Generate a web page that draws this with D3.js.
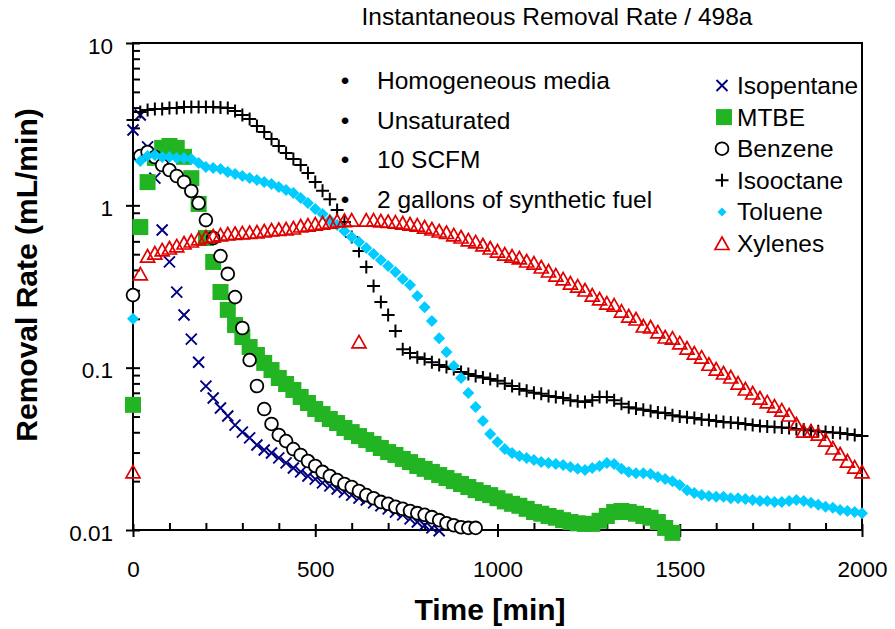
<!DOCTYPE html>
<html><head><meta charset="utf-8">
<script src="https://cdn.jsdelivr.net/npm/d3@7"></script>
<style>body{margin:0;background:#fff} svg text{font-family:"Liberation Sans",Arial,sans-serif;fill:#000}</style>
</head><body><svg id="c" width="895" height="629"></svg>
<script>
const timeMin = [0,20,40,60,80,100,120,140,160,180,200,220,240,260,280,300,320,340,360,380,400,420,440,460,480,500,520,540,560,580,600,620,640,660,680,700,720,740,760,780,800,820,840,860,880,900,920,940,960,980,1000,1020,1040,1060,1080,1100,1120,1140,1160,1180,1200,1220,1240,1260,1280,1300,1320,1340,1360,1380,1400,1420,1440,1460,1480,1500,1520,1540,1560,1580,1600,1620,1640,1660,1680,1700,1720,1740,1760,1780,1800,1820,1840,1860,1880,1900,1920,1940,1960,1980,2000];

const isopentane = [2.91,3.6,2.29,1.47,0.705,0.448,0.292,0.211,0.150,0.108,0.077,0.065,0.0564,0.0504,0.0443,0.0401,0.0369,0.0334,0.0311,0.0298,0.0278,0.0259,0.0241,0.0228,0.0215,0.0206,0.0195,0.0187,0.0179,0.0171,0.0164,0.0157,0.0153,0.0147,0.0141,0.0135,0.0129,0.0124,0.0117,0.0112,0.0107,0.0103,0.0099];

const mtbe = [0.059,0.735,1.39,1.96,2.26,2.32,2.26,1.99,1.47,1.02,0.629,0.448,0.2925,0.227,0.183,0.1545,0.134,0.1197,0.107,0.0967,0.0864,0.0793,0.0729,0.066,0.0606,0.0556,0.0518,0.0483,0.0456,0.0425,0.0401,0.0379,0.0358,0.0339,0.032,0.0302,0.029,0.0274,0.0262,0.0248,0.0238,0.0228,0.0218,0.0209,0.02,0.0192,0.0184,0.0176,0.0169,0.0164,0.0157,0.015,0.0145,0.0141,0.0135,0.0129,0.0126,0.0122,0.0119,0.0115,0.0112,0.011,0.0109,0.0109,0.0114,0.0122,0.0129,0.0131,0.0129,0.0126,0.0122,0.0119,0.0112,0.0103,0.0096];

const benzene = [0.28,2.01,2.13,1.985,1.771,1.65,1.516,1.393,1.226,1.033,0.811,0.629,0.487,0.378,0.272,0.1755,0.1114,0.0771,0.0556,0.045,0.0385,0.0353,0.0315,0.029,0.0266,0.0248,0.0228,0.0215,0.0203,0.0192,0.0184,0.0174,0.0164,0.0157,0.0149,0.0145,0.0139,0.0135,0.0131,0.0127,0.0124,0.012,0.0115,0.011,0.0107,0.0104,0.0103,0.0103];

const isooctane = [3.36,3.76,3.87,3.92,3.92,3.98,3.98,4.04,4.04,4.04,4.04,4.04,4.0,3.98,3.81,3.6,3.4,3.08,2.83,2.56,2.32,2.1,1.93,1.77,1.58,1.39,1.23,1.09,0.936,0.789,0.638,0.523,0.417,0.318,0.254,0.211,0.168,0.130,0.123,0.116,0.113,0.108,0.104,0.101,0.098,0.094,0.0914,0.0888,0.087,0.0851,0.083,0.080,0.077,0.074,0.072,0.070,0.069,0.067,0.066,0.065,0.063,0.062,0.0615,0.063,0.066,0.066,0.063,0.060,0.057,0.056,0.055,0.054,0.053,0.0525,0.051,0.050,0.0495,0.049,0.048,0.0476,0.047,0.0463,0.046,0.0456,0.045,0.0444,0.0437,0.0434,0.0431,0.0428,0.0425,0.0419,0.0416,0.041,0.0406,0.0401,0.0398,0.0396,0.039,0.0385,0.038];

const toluene = [0.2,1.876,2.01,2.04,1.985,1.985,1.957,1.957,1.929,1.823,1.722,1.697,1.673,1.603,1.558,1.516,1.474,1.432,1.393,1.354,1.297,1.243,1.191,1.109,1.033,0.949,0.884,0.811,0.756,0.695,0.638,0.595,0.546,0.501,0.46,0.423,0.388,0.352,0.323,0.276,0.236,0.194,0.152,0.125,0.1024,0.0864,0.0698,0.0572,0.0469,0.039,0.0348,0.0315,0.0298,0.0286,0.0278,0.027,0.0262,0.0259,0.0255,0.0251,0.0244,0.0238,0.0234,0.0241,0.0248,0.0259,0.0255,0.0238,0.0228,0.0224,0.0224,0.0221,0.0212,0.0206,0.02,0.0189,0.0176,0.0169,0.0164,0.0162,0.016,0.016,0.0157,0.0157,0.0155,0.0153,0.0151,0.0151,0.0149,0.0149,0.0151,0.0153,0.0151,0.0147,0.0143,0.0139,0.0137,0.0133,0.0131,0.0129,0.0127];

const xylenes = [0.0228,0.378,0.487,0.508,0.531,0.546,0.562,0.586,0.603,0.621,0.638,0.647,0.657,0.666,0.671,0.676,0.68,0.685,0.695,0.705,0.71,0.715,0.725,0.746,0.756,0.767,0.778,0.789,0.801,0.806,0.811,0.144,0.811,0.811,0.801,0.795,0.789,0.778,0.767,0.756,0.735,0.715,0.695,0.68,0.657,0.638,0.612,0.595,0.57,0.546,0.523,0.501,0.487,0.474,0.454,0.441,0.417,0.394,0.372,0.352,0.332,0.318,0.301,0.28,0.265,0.25,0.243,0.223,0.208,0.1995,0.1806,0.178,0.166,0.1545,0.152,0.142,0.132,0.123,0.116,0.105,0.098,0.0927,0.0876,0.0804,0.0739,0.0698,0.065,0.0615,0.058,0.0548,0.0511,0.045,0.0407,0.0407,0.039,0.0358,0.032,0.0294,0.0266,0.0244,0.0228];

const seriesNames = ["Isopentane","MTBE","Benzene","Isooctane","Toluene","Xylenes"];
const xTickValues = [0,500,1000,1500,2000];
const xTickLabels = ["0","500","1000","1500","2000"];
const yTickValues = [0.01,0.1,1,10];
const yTickLabels = ["0.01","0.1","1","10"];
const notes = ["Homogeneous media","Unsaturated","10 SCFM","2 gallons of synthetic fuel"];
const chartTitle = "Instantaneous Removal Rate / 498a";
const xTitle = "Time [min]";
const yTitle = "Removal Rate (mL/min)";

const L=133,R=862,T=43,B=530;
const x = d3.scaleLinear().domain([0,2000]).range([L,R]);
const y = d3.scaleLog().domain([0.01,10]).range([B,T]);
const svg = d3.select("#c");

svg.append("text").attr("x",557).attr("y",25).attr("text-anchor","middle")
  .style("font-size","24.5px").text(chartTitle);

// frame
svg.append("rect").attr("x",L).attr("y",T).attr("width",R-L).attr("height",B-T)
  .attr("fill","none").attr("stroke","#000").attr("stroke-width",2);

// x minor ticks (inside)
const xMinor = d3.range(100,2000,100).filter(v=>v%500!==0);
svg.append("g").attr("transform",`translate(0,${B})`)
  .call(d3.axisBottom(x).tickValues(xMinor).tickSize(-7).tickFormat(""))
  .call(g=>{g.select(".domain").remove();g.selectAll("line").attr("stroke-width",2);});
// x major ticks (crossing)
svg.append("g").attr("transform",`translate(0,${B})`)
  .call(d3.axisBottom(x).tickValues(xTickValues).tickSize(7).tickFormat((d,i)=>xTickLabels[i]))
  .call(g=>{g.select(".domain").remove();
    g.selectAll("line").attr("y1",-6).attr("stroke-width",2);
    g.selectAll("text").attr("y",47).attr("dy",null).style("font-size","22.5px").attr("fill","#000");
  });

// y minor ticks (inside)
const yMinor=[];
[0.01,0.1,1].forEach(d=>{for(let m=2;m<=9;m++) yMinor.push(+(d*m).toPrecision(3));});
svg.append("g").attr("transform",`translate(${L},0)`)
  .call(d3.axisLeft(y).tickValues(yMinor).tickSize(-7).tickFormat(""))
  .call(g=>{g.select(".domain").remove();g.selectAll("line").attr("stroke-width",2);});
// y major ticks
svg.append("g").attr("transform",`translate(${L},0)`)
  .call(d3.axisLeft(y).tickValues(yTickValues).tickSize(7).tickFormat((d,i)=>yTickLabels[i]))
  .call(g=>{g.select(".domain").remove();
    g.selectAll("line").attr("x1",7).attr("stroke-width",2);
    g.selectAll("text").attr("x",-20).attr("dy","0.45em").style("font-size","22.5px").attr("fill","#000");
  });

// axis titles
svg.append("text").attr("x",490).attr("y",620).attr("text-anchor","middle")
  .style("font-size","30px").style("font-weight","bold").text(xTitle);
svg.append("text").attr("transform","translate(37,275) rotate(-90)").attr("text-anchor","middle")
  .style("font-size","30px").style("font-weight","bold").text(yTitle);

// marker shapes
const circ = r=>`M${r},0A${r},${r} 0 1,1 ${-r},0A${r},${r} 0 1,1 ${r},0Z`;
const shapes = {
  Isopentane:{d:"M-5.5,-5.5L5.5,5.5M-5.5,5.5L5.5,-5.5", fill:"none", stroke:"#000080", sw:1.9},
  MTBE:{d:"M-8,-8H8V8H-8Z", fill:"#22b422", stroke:"none", sw:0},
  Benzene:{d:circ(6.4), fill:"#fff", stroke:"#000", sw:1.8},
  Isooctane:{d:"M-6.5,0H6.5M0,-6.5V6.5", fill:"none", stroke:"#000", sw:2},
  Toluene:{d:"M0,-6L6,0L0,6L-6,0Z", fill:"#00ccff", stroke:"none", sw:0},
  Xylenes:{d:"M0,-6.5L7,6L-7,6Z", fill:"none", stroke:"#e00000", sw:1.7}
};
const seriesData = [isopentane,mtbe,benzene,isooctane,toluene,xylenes];

seriesData.forEach((vals,si)=>{
  const s = shapes[seriesNames[si]];
  svg.append("g").selectAll("path")
    .data(vals.map((v,i)=>({t:timeMin[i],v})))
    .join("path")
    .attr("transform",d=>`translate(${x(d.t)},${y(d.v)})`)
    .attr("d",s.d).attr("fill",s.fill).attr("stroke",s.stroke).attr("stroke-width",s.sw);
});

// notes
const ng = svg.append("g");
notes.forEach((n,i)=>{
  const by = 89 + i*39.6;
  ng.append("text").attr("x",345).attr("y",by).attr("text-anchor","middle").style("font-size","24.5px").text("•");
  ng.append("text").attr("x",377).attr("y",by).style("font-size","24.5px").text(n);
});

// legend
const lg = svg.append("g");
seriesNames.forEach((n,i)=>{
  const by = 94 + i*31.6;
  const s = shapes[n];
  const sc = n==="Toluene"?0.75:1;
  lg.append("path").attr("transform",`translate(${n==="MTBE"?724:722},${by-8.5}) scale(${sc})`)
    .attr("d",s.d).attr("fill",s.fill).attr("stroke",s.stroke).attr("stroke-width",s.sw/sc);
  lg.append("text").attr("x",737).attr("y",by).style("font-size","24.5px").text(n);
});
</script></body></html>
